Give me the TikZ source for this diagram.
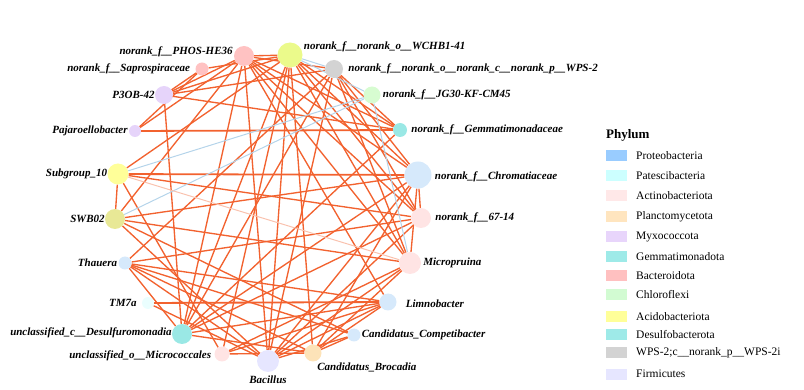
\documentclass[tikz,border=0pt]{standalone}
\usepackage{fontspec}
\setmainfont{Liberation Serif}
\usepackage{tikz}
\usetikzlibrary{positioning,backgrounds}

\definecolor{proteo}{HTML}{D6E9FB}
\definecolor{patesci}{HTML}{EAFEFE}
\definecolor{actino}{HTML}{FFE4E4}
\definecolor{plancto}{HTML}{FDE3B8}
\definecolor{myxo}{HTML}{E6D4FA}
\definecolor{gemma}{HTML}{9AE8E5}
\definecolor{bactero}{HTML}{FFC2C2}
\definecolor{chloro}{HTML}{D7FCD1}
\definecolor{acido}{HTML}{FFFF99}
\definecolor{acidotwo}{HTML}{EBFA8B}
\definecolor{acidothree}{HTML}{E8E896}
\definecolor{wpsgrey}{HTML}{D3D3D3}
\definecolor{firmi}{HTML}{E6E6FF}
\definecolor{poslink}{HTML}{F2622F}
\definecolor{neglink}{HTML}{B5D4EA}
\definecolor{weaklink}{HTML}{F9C2AE}

\tikzset{
  taxon/.style={circle,inner sep=0pt,draw=none,fill=#1},
  lab/.style={font=\fontsize{11}{12}\selectfont\bfseries\itshape,inner sep=0pt},
  key/.style={minimum width=21pt,minimum height=11pt,inner sep=0pt,draw=none,fill=#1},
  keytext/.style={font=\fontsize{11.5}{13}\selectfont,inner sep=0pt,anchor=west},
  link/.style={draw=poslink,line width=1.35pt}
}

\begin{document}
\begin{tikzpicture}[x=1pt,y=-1pt]
  \useasboundingbox (0,0) rectangle (804,390);

  % taxa on the circle
  \node[taxon=bactero,minimum size=20pt] (phos) at (244,56) {};
  \node[taxon=acidotwo,minimum size=25pt] (wchb) at (290,55) {};
  \node[taxon=wpsgrey,minimum size=18pt] (wps) at (334,69) {};
  \node[taxon=chloro,minimum size=17pt] (jg30) at (372,95) {};
  \node[taxon=gemma,minimum size=14pt] (gemm) at (400,130) {};
  \node[taxon=proteo,minimum size=27pt] (chrom) at (418,175) {};
  \node[taxon=actino,minimum size=20pt] (nsix) at (421,218) {};
  \node[taxon=actino,minimum size=22pt] (micro) at (410,263) {};
  \node[taxon=proteo,minimum size=17pt] (limno) at (388,302) {};
  \node[taxon=proteo,minimum size=13pt] (compet) at (354,335) {};
  \node[taxon=plancto,minimum size=17pt] (broc) at (313,353) {};
  \node[taxon=firmi,minimum size=22pt] (bac) at (268,361) {};
  \node[taxon=actino,minimum size=15pt] (microc) at (222,354) {};
  \node[taxon=gemma,minimum size=20pt] (desulf) at (182,334) {};
  \node[taxon=patesci,minimum size=12pt] (tm7a) at (148,303) {};
  \node[taxon=proteo,minimum size=13pt] (thau) at (125,263) {};
  \node[taxon=acidothree,minimum size=20pt] (swb) at (115,219) {};
  \node[taxon=acido,minimum size=21pt] (sub10) at (118,174) {};
  \node[taxon=myxo,minimum size=12pt] (paja) at (135,131) {};
  \node[taxon=myxo,minimum size=18pt] (p3ob) at (164,95) {};
  \node[taxon=bactero,minimum size=13pt] (sapro) at (202,69) {};

  % names
  \node[lab,left=1pt of phos,yshift=4pt] (phosL) {norank\_f\_\_PHOS-HE36};
  \node[lab,right=1pt of wchb,yshift=8pt] (wchbL) {norank\_f\_\_norank\_o\_\_WCHB1-41};
  \node[lab,right=5pt of wps] (wpsL) {norank\_f\_\_norank\_o\_\_norank\_c\_\_norank\_p\_\_WPS-2};
  \node[lab,right=2pt of jg30] (jg30L) {norank\_f\_\_JG30-KF-CM45};
  \node[lab,right=4pt of gemm] (gemmL) {norank\_f\_\_Gemmatimonadaceae};
  \node[lab,right=3pt of chrom,yshift=-2pt] (chromL) {norank\_f\_\_Chromatiaceae};
  \node[lab,right=4pt of nsix] (nsixL) {norank\_f\_\_67-14};
  \node[lab,right=2pt of micro] (microL) {Micropruina};
  \node[lab,right=9pt of limno,yshift=-2pt] (limnoL) {Limnobacter};
  \node[lab,right=1pt of compet] (competL) {Candidatus\_Competibacter};
  \node[lab,below right=4pt and -2pt of broc] (brocL) {Candidatus\_Brocadia};
  \node[lab,below=3pt of bac] (bacL) {Bacillus};
  \node[lab,left=3pt of microc,yshift=-2pt] (microcL) {unclassified\_o\_\_Micrococcales};
  \node[lab,left=0pt of desulf,yshift=1pt] (desulfL) {unclassified\_c\_\_Desulfuromonadia};
  \node[lab,left=5pt of tm7a] (tm7aL) {TM7a};
  \node[lab,left=1pt of thau] (thauL) {Thauera};
  \node[lab,left=0pt of swb] (swbL) {SWB02};
  \node[lab,left=0pt of sub10] (sub10L) {Subgroup\_10};
  \node[lab,left=1pt of paja] (pajaL) {Pajaroellobacter};
  \node[lab,left=0pt of p3ob] (p3obL) {P3OB-42};
  \node[lab,left=5pt of sapro] (saproL) {norank\_f\_\_Saprospiraceae};

  % correlations
  \begin{scope}[on background layer]
    \foreach \a/\b in {phos/wps,phos/p3ob,phos/paja,phos/swb,phos/desulf,phos/bac,
        phos/chrom,phos/gemm,phos/nsix,phos/micro,phos/limno,
        wchb/phos,wchb/sapro,wchb/p3ob,wchb/sub10,wchb/gemm,wchb/chrom,wchb/nsix,
        wchb/micro,wchb/bac,wchb/microc,wchb/desulf,wchb/broc,
        wps/p3ob,wps/gemm,wps/chrom,wps/nsix,wps/micro,wps/desulf,wps/bac,wps/thau,
        sapro/paja,sapro/p3ob,p3ob/desulf,p3ob/gemm,
        sub10/swb,sub10/nsix,sub10/microc,
        swb/chrom,swb/micro,swb/compet,swb/bac,
        thau/limno,thau/compet,thau/desulf,thau/broc,thau/bac,thau/nsix,
        tm7a/bac,
        desulf/chrom,desulf/gemm,desulf/nsix,desulf/limno,desulf/broc,
        microc/broc,microc/limno,microc/micro,
        bac/limno,bac/compet,bac/nsix,bac/chrom,bac/micro,
        broc/limno,broc/compet,broc/micro,broc/chrom,
        chrom/nsix,chrom/micro}
      \path[link] (\a) -- (\b);
    \foreach \a/\b in {paja/gemm,sub10/chrom,tm7a/limno}
      \path[link,line width=1.8pt] (\a) -- (\b);
    \foreach \a/\b in {sub10/jg30,swb/jg30,wchb/jg30,jg30/micro,wchb/wps}
      \draw[neglink,line width=1pt] (\a) -- (\b);
    \draw[weaklink,line width=1pt] (sub10) -- (micro);
  \end{scope}

  % legend
  \node[font=\fontsize{13}{14}\selectfont\bfseries,inner sep=0pt,anchor=west] (phylum) at (606,135) {Phylum};
  \foreach \c/\t/\y [count=\i] in {99CCFF/Proteobacteria/156,CCFFFF/Patescibacteria/176,
      FFE8E8/Actinobacteriota/196,FFE5BF/Planctomycetota/217,E8D5FB/Myxococcota/237,
      9EEAE8/Gemmatimonadota/257,FFC0C0/Bacteroidota/276,D2FBD2/Chloroflexi/295,
      FFFF99/Acidobacteriota/317,9EEAE8/Desulfobacterota/335,
      D3D3D3/WPS-2;c\_\_norank\_p\_\_WPS-2i/353,E6E6FF/Firmicutes/374}{
    \definecolor{keycol}{HTML}{\c}
    \node[key=keycol] (key\i) at (616.5,\y) {};
    \node[keytext] (keyt\i) at (636,\y) {\t};
  }
\end{tikzpicture}
\end{document}
